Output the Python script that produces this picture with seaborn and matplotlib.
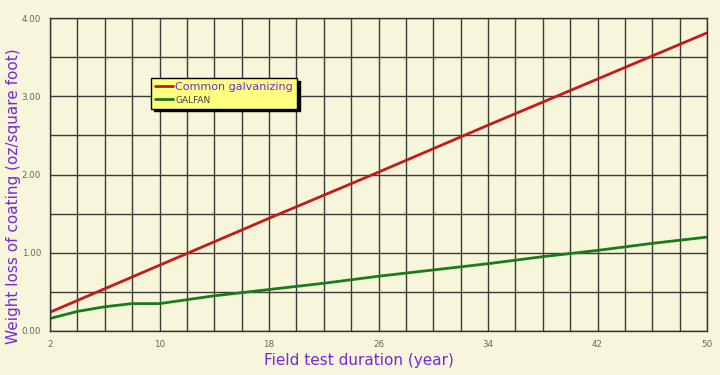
import numpy as np
import pandas as pd
import matplotlib
matplotlib.use("Agg")
import matplotlib.pyplot as plt
import seaborn as sns
from matplotlib.ticker import MultipleLocator, FixedLocator

# Data
years_galv = [2, 10, 18, 26, 34, 42, 50]
common_galv = [0.24, 0.84, 1.44, 2.03, 2.63, 3.22, 3.81]
years_galfan = [2, 4, 6, 8, 10, 12, 14, 16, 18, 22, 26, 30, 34, 38, 42, 46, 50]
galfan = [0.16, 0.25, 0.31, 0.35, 0.35, 0.40, 0.45, 0.49, 0.53, 0.61, 0.70, 0.78, 0.86, 0.95, 1.03, 1.12, 1.20]
x_ticks = [2, 10, 18, 26, 34, 42, 50]
y_ticks = [0, 1, 2, 3, 4]
series_names = ["Common galvanizing", "GALFAN"]

df = pd.concat([
    pd.DataFrame({"year": years_galv, "loss": common_galv, "series": series_names[0]}),
    pd.DataFrame({"year": years_galfan, "loss": galfan, "series": series_names[1]}),
])

sns.set_style("white")
plt.rcParams['font.family'] = ['DejaVu Sans']
bg = "#F7F6DA"
fig = plt.figure(figsize=(7.2, 3.75), dpi=100, facecolor=bg)
ax = fig.add_axes([50/720, 1-331/375, 657/720, 313/375])
ax.set_facecolor(bg)

palette = {series_names[0]: "#C41A1A", series_names[1]: "#1B7A1B"}
sns.lineplot(data=df, x="year", y="loss", hue="series", palette=palette,
             linewidth=2, ax=ax, legend=True)

ax.set_xlim(2, 50)
ax.set_ylim(0, 4)
ax.xaxis.set_major_locator(FixedLocator(x_ticks))
ax.xaxis.set_minor_locator(MultipleLocator(2))
ax.yaxis.set_major_locator(FixedLocator(y_ticks))
ax.yaxis.set_minor_locator(MultipleLocator(0.5))
ax.set_yticklabels([f"{v:.2f}" for v in y_ticks])
ax.grid(True, which="both", color="#3a3a3a", linewidth=1)
ax.set_axisbelow(True)
ax.tick_params(axis="both", which="both", length=4, width=1, color="#333333",
               labelsize=6.3, labelcolor="#666666", pad=2.5)
ax.tick_params(axis="both", which="minor", labelbottom=False)
for s in ax.spines.values():
    s.set_color("#333333")
    s.set_linewidth(1)

purple = "#7428E0"
ax.set_xlabel("Field test duration (year)", color=purple, fontsize=11)
ax.xaxis.set_label_coords(0.47, -0.07)
ax.set_ylabel("Weight loss of coating (oz/square foot)", color=purple, fontsize=11)
ax.yaxis.set_label_coords(-0.044, 0.43)

leg = ax.legend(loc="upper left", bbox_to_anchor=(0.146, 0.825), frameon=True,
                fancybox=False, shadow={'color': 'black', 'alpha': 1}, facecolor="#FFFF80",
                edgecolor="black", handlelength=1.6, handletextpad=0.2,
                borderpad=0.35, labelspacing=0.25, fontsize=8)
leg.get_frame().set_linewidth(1)
leg.get_frame().set_alpha(1)
texts = leg.get_texts()
texts[0].set_color(purple)
texts[0].set_fontsize(8)
texts[1].set_color("#444444")
texts[1].set_fontsize(6.5)

fig.savefig("out.png", dpi=100, facecolor=bg)
